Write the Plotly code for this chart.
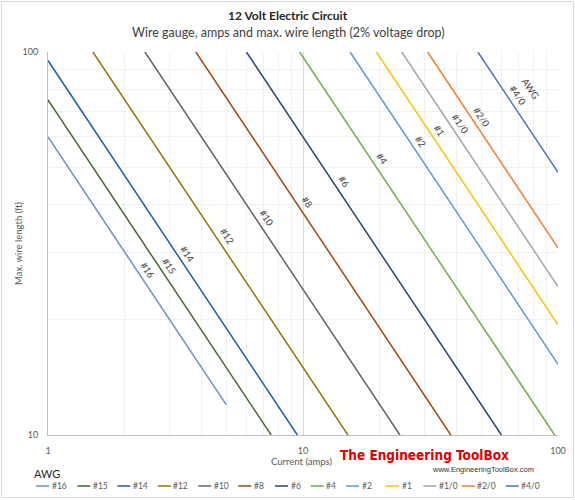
import numpy as np
import plotly.graph_objects as go

# wire gauges (AWG) and their line colours
gauges = ["#16", "#15", "#14", "#12", "#10", "#8", "#6", "#4",
          "#2", "#1", "#1/0", "#2/0", "#4/0"]
colors = ["#698ED0", "#43682B", "#255E91", "#997300", "#636363", "#9E480E", "#264478",
          "#70AD47", "#5B9BD5", "#FFC000", "#A5A5A5", "#ED7D31", "#4472C4"]

# start / end of every line
amps = [[1, 5], [1, 7.5], [1, 9.5], [1.5, 15], [2.4, 24], [3.8, 38], [6, 60],
        [9.7, 97], [15.3, 100], [19.4, 100], [24.4, 100], [30.8, 100], [48.5, 100]]
length_ft = [[60, 12], [75, 10], [95, 10], [100, 10], [100, 10], [100, 10], [100, 10],
             [100, 10], [100, 15.3], [100, 19.4], [100, 24.4], [100, 30.8], [100, 48.5]]

# current at which each gauge label sits on its line
label_amps = [2.3, 2.8, 3.3, 4.7, 6.7, 9.7, 13.5, 19, 27, 32, 38.6, 47, 65]

x_ticks = [1, 10, 100]
y_ticks = [10, 100]

FONT = "Lato, 'Liberation Sans', sans-serif"
GREY = "#595959"

# plot area in pixels (used to place things outside the axes)
L, R, T, B = 48, 558, 52, 435


def px_x(p):
    return (p - L) / (R - L)


def px_y(p):
    return (B - p) / (B - T)


def note(px, py, text, size, color=GREY, family=FONT, **kw):
    kw.setdefault("xanchor", "center")
    fig.add_annotation(xref="paper", yref="paper", x=px_x(px), y=px_y(py),
                       text=text, showarrow=False, yanchor="middle",
                       font=dict(size=size, color=color, family=family), **kw)


fig = go.Figure()
for g, c, xs, ys in zip(gauges, colors, amps, length_ft):
    fig.add_trace(go.Scatter(x=xs, y=ys, mode="lines", name=g,
                             line=dict(color=c, width=1.5), showlegend=False))

# labels along the lines
for g, xs, ys, la in zip(gauges, amps, length_ft, label_amps):
    ly = np.interp(np.log10(la), np.log10(xs), np.log10(ys))
    fig.add_annotation(x=np.log10(la), y=ly, text=g, showarrow=False,
                       xanchor="center", yanchor="middle",
                       textangle=56, xshift=7.5, yshift=5,
                       font=dict(size=9.5, color="#404040", family=FONT))
# "AWG" next to the last label
ly = np.interp(np.log10(label_amps[-1]), np.log10(amps[-1]), np.log10(length_ft[-1]))
fig.add_annotation(x=np.log10(label_amps[-1]), y=ly, text="AWG", showarrow=False,
                   xanchor="center", yanchor="middle",
                   textangle=56, xshift=20, yshift=12,
                   font=dict(size=9.5, color="#404040", family=FONT))

# titles
note(288, 16, "<b>12 Volt Electric Circuit</b>", 12, color="#262626")
note(288, 32.5, "Wire gauge, amps and max. wire length (2% voltage drop)", 12.5,
     color="#404040")
note(301, 461.5, "Current (amps)", 9.5)
note(18.5, 243.5, "Max. wire length (ft)", 9.5, textangle=-90)

# logo
note(424, 455, "<b>The Engineering ToolBox</b>", 13.5, color="#E00000",
     family="'Liberation Sans Narrow', 'DejaVu Sans Condensed', 'Liberation Sans', sans-serif")
note(482.5, 469.5, "www.EngineeringToolBox.com", 7.5, color="#333333",
     family="'Liberation Sans', sans-serif")

# hand-drawn legend (Excel style, short line samples)
legend_px = [36, 77.3, 117.3, 157.7, 198.3, 238.3, 275, 310.7, 346, 386, 423.3, 461.7, 505.7]
note(31.5, 473.5, "AWG", 11, color="#262626", xanchor="left")
for g, c, p in zip(gauges, colors, legend_px):
    fig.add_shape(type="line", xref="paper", yref="paper",
                  x0=px_x(p), x1=px_x(p + 13), y0=px_y(486), y1=px_y(486),
                  line=dict(color=c, width=1.5))
    note(p + 13.5, 486, g, 8.5, xanchor="left")

# chart border
fig.add_shape(type="rect", xref="paper", yref="paper",
              x0=px_x(1.5), x1=px_x(573.5), y0=px_y(1.5), y1=px_y(497.5),
              line=dict(color="#D9D9D9", width=1))

minor_x = [2, 3, 4, 5, 6, 7, 8, 9, 20, 30, 40, 50, 60, 70, 80, 90]
minor_y = [20, 30, 40, 50, 60, 70, 80, 90]

fig.update_xaxes(type="log", range=[0, 2], tickvals=x_ticks,
                 ticktext=[str(v) for v in x_ticks], ticklabelstandoff=7,
                 showgrid=True, gridcolor="#D9D9D9", gridwidth=1,
                 minor=dict(tickvals=minor_x, showgrid=True, gridcolor="#F0F0F0", ticks=""),
                 showline=True, linecolor="#BFBFBF", linewidth=1, ticks="",
                 tickfont=dict(size=9, color=GREY, family=FONT), zeroline=False)
fig.update_yaxes(type="log", range=[1, 2], tickvals=y_ticks,
                 ticktext=[str(v) for v in y_ticks], ticklabelstandoff=7,
                 showgrid=True, gridcolor="#D9D9D9", gridwidth=1,
                 minor=dict(tickvals=minor_y, showgrid=True, gridcolor="#F0F0F0", ticks=""),
                 showline=True, linecolor="#BFBFBF", linewidth=1, ticks="",
                 tickfont=dict(size=9, color=GREY, family=FONT), zeroline=False)

fig.update_layout(width=575, height=500,
                  margin=dict(l=L, r=575 - R, t=T, b=500 - B, autoexpand=False),
                  plot_bgcolor="#FFFFFF", paper_bgcolor="#FFFFFF",
                  showlegend=False, font=dict(family=FONT, color=GREY))

# page body has a default 8px margin; drop it so the chart fills the window
fig.write_html("out.html", config={"displayModeBar": False},
               post_script="document.body.style.margin='0';")
